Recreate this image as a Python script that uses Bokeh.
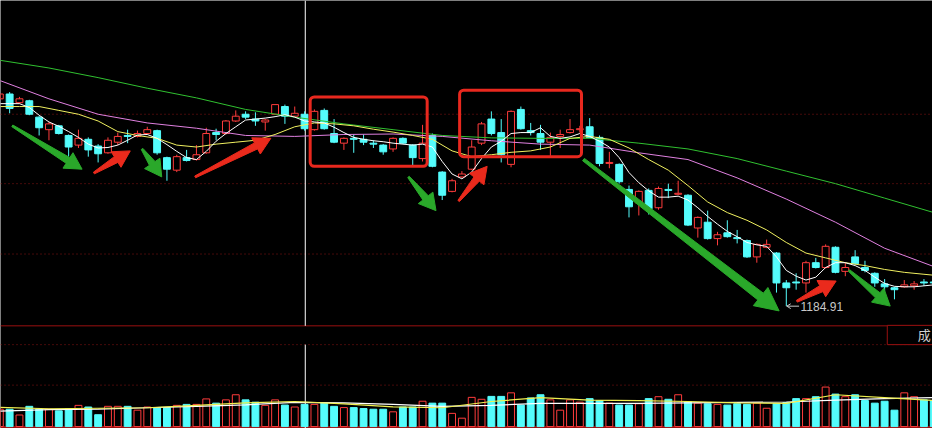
import math
from bokeh.plotting import figure
from bokeh.models import Range1d, ColumnDataSource
from bokeh.embed import file_html
from bokeh.resources import INLINE
from bokeh.core.properties import value

# ---------------- data ----------------
opens = [1400,1405,1396,1398,1381,1368,1372,1362,1352,1358,1351,1344,1355,1362,1361,1364,1367,1339,1326,1339,
         1337,1344,1365,1364,1377,1384,1379,1376,1384,1392,1382,1384,1368,1388,1364,1354,1359,1358,1354,1352,
         1348,1359,1352,1338,1362,1324,1304,1319,1327,1354,1379,1365,1332,1389,1367,1364,1355,1361,1365,1368,
         1371,1360,1333,1332,1306,1292,1305,1287,1306,1301,1300,1266,1272,1255,1261,1256,1253,1236,1246,1240,
         1209,1210,1209,1230,1225,1246,1221,1236,1225,1219,1208,1204,1205,1206,1210,1210]
closes = [1405,1390,1400,1384,1370,1374,1364,1350,1359,1347,1343,1357,1361,1361,1364,1368,1344,1327,1340,1336,
          1342,1364,1363,1377,1382,1381,1377,1378,1394,1382,1385,1369,1387,1369,1355,1359,1358,1355,1353,1345,
          1359,1354,1339,1354,1330,1300,1315,1322,1350,1374,1364,1342,1387,1369,1365,1355,1360,1363,1368,1369,
          1360,1333,1334,1314,1288,1304,1286,1307,1305,1302,1269,1277,1255,1259,1257,1255,1236,1249,1249,1209,
          1204,1209,1230,1225,1247,1220,1225,1229,1222,1209,1205,1202,1207,1208,1209,1209]
highs = [1406,1407,1402,1399,1382,1376,1373,1363,1368,1360,1353,1360,1365,1368,1367,1371,1368,1340,1342,1347,
         1352,1370,1369,1378,1388,1387,1386,1379,1394,1394,1392,1387,1389,1390,1379,1360,1363,1363,1357,1353,
         1360,1360,1353,1373,1364,1325,1317,1325,1357,1376,1387,1379,1388,1392,1375,1373,1365,1368,1379,1372,
         1380,1362,1345,1333,1310,1305,1307,1309,1312,1315,1301,1278,1284,1262,1274,1264,1254,1250,1254,1241,
         1212,1219,1232,1235,1249,1247,1230,1243,1232,1220,1213,1205,1212,1211,1213,1212]
lows = [1399,1385,1395,1383,1362,1357,1363,1340,1349,1340,1334,1343,1352,1354,1360,1363,1342,1315,1324,1335,
        1336,1343,1357,1363,1376,1379,1372,1367,1384,1374,1381,1367,1367,1368,1354,1347,1344,1352,1349,1342,
        1345,1353,1331,1335,1329,1295,1303,1318,1326,1352,1362,1334,1329,1368,1362,1347,1340,1349,1364,1365,
        1359,1330,1328,1312,1277,1279,1280,1285,1297,1300,1268,1256,1254,1248,1256,1250,1235,1230,1245,1199,
        1184.91,1202,1199,1224,1224,1219,1216,1228,1220,1205,1200,1192,1204,1202,1206,1207]
volumes = [180,180,120,210,180,180,163,183,220,203,123,210,210,210,170,203,197,197,220,230,
           230,287,243,277,330,277,253,220,277,223,203,230,230,243,210,197,197,187,180,180,
           153,203,203,263,243,243,137,87,303,283,313,313,350,223,297,330,277,170,277,253,
           290,270,243,223,223,237,290,310,283,330,257,243,237,230,223,237,230,243,190,237,
           250,290,290,310,410,337,310,330,270,243,263,170,350,310,277,270]

ma5 = [1395,1395,1395,1391,1383,1376,1371.5,1366,1360,1353,1349,1349.5,1352,1357,1362.5,1363,1359,1352.5,1345.5,1339,
       1337,1345.5,1356,1364,1371,1378,1379,1380,1381.5,1383.5,1381,1377,1376,1375,1370.5,1365,1360,1358,1356.5,1355.5,
       1354,1353,1352,1353,1350,1335,1322,1317,1324,1338,1350,1356,1364,1365,1365,1370,1361,1359,1360.5,1364,
       1361,1356,1350,1339,1323.5,1313,1304.5,1298,1298,1299,1295,1287,1278,1270,1262.5,1257,1251,1248.5,1247,1236,
       1222,1216,1212,1215,1225,1230,1230,1227,1222,1215,1208.5,1205.5,1205,1205,1206,1207]
ma10_idx = list(range(0, 96, 2)) + [95]
ma10 = [1392,1392,1392,1388,1384,1377,1366,1362,1359,1352,1350,1353,1355,1357,1363,1371,1375,1374,1372,1368.5,
        1365.5,1362,1358,1346,1340,1342,1344.5,1346,1350,1359,1361,1358,1349,1337,1326,1310,1293,1282,1274,1264,
        1251,1240,1235,1230,1227,1223,1220,1218,1217]
ma_idx5 = list(range(0, 96, 5)) + [95]
ma20 = [1419,1400,1384,1375,1369.5,1362,1361,1363,1363.5,1361,1356.5,1353,1352,1344,1337,1318,1296,1272,1245,1226]
ma60 = [1440,1432,1422,1411,1401,1389,1381,1374,1368,1362,1359.5,1359,1359,1354,1348,1338,1325,1312,1297,1282]
vol_ma5 = [160,175,180,195,210,225,250,245,230,210,220,240,240,240,245,250,255,275,290,300]
vol_ma10 = [200,185,190,195,220,245,260,235,205,195,260,300,275,270,260,245,240,330,300,270]

low_value = 1184.91
grid_prices = [1384, 1312, 1239]
vol_grid = [850, 430]
vol_label = "成"

# annotation arrows: (tail index, tail price, tip index, tip price, kind)
arrows = [(1.27,1372,8.37,1327,"g"),(9.57,1323,13.27,1346,"r"),(14.47,1348,16.47,1319,"g"),
          (19.87,1319,27.57,1359,"r"),(41.57,1319,44.37,1284,"g"),(46.67,1294,49.57,1330,"r"),
          (59.37,1337,79.27,1180,"G"),(81.07,1190,85.07,1211,"r"),(86.37,1222,90.57,1185,"g")]
boxes = [(31.57,43.47,1330,1402),(46.77,59.17,1340,1409)]
cursor_x = 31.07

# ---------------- figure ----------------
UP = "#ff3c3c"
DOWN = "#54fcfc"
GRID = "#8a1414"

p = figure(width=932, height=428, output_backend="svg", toolbar_location=None,
           x_range=Range1d(0.07, 94.87), y_range=Range1d(1058, 1502),
           x_axis_location=None, y_axis_location=None, min_border=0,
           background_fill_color="black", border_fill_color="black")
p.outline_line_color = None
p.grid.visible = False
p.extra_y_ranges = {"vol": Range1d(-20, 4420)}

# grid lines
for g in grid_prices:
    p.line([0.07, 94.87], [g, g], line_color=GRID, line_dash="1 3", line_width=1)
for g in vol_grid:
    p.line([0.07, 94.87], [g, g], line_color=GRID, line_dash="1 3", line_width=1, y_range_name="vol")
p.line([0.07, 94.87], [1164.5, 1164.5], line_color="#9a1010", line_width=1)
p.line([0.07, 94.87], [-5, -5], line_color="#9a1010", line_width=2, y_range_name="vol")

# crosshair
p.segment(x0=[cursor_x], y0=[1502], x1=[cursor_x], y1=[1164.5], line_color="white", line_width=1)
p.segment(x0=[cursor_x], y0=[850], x1=[cursor_x], y1=[-20], line_color="white", line_width=1, y_range_name="vol")

# candles
idx = list(range(len(opens)))
up = [c > o for o, c in zip(opens, closes)]
col = [UP if u else DOWN for u in up]
fill = ["black" if u else DOWN for u in up]
top = [max(o, c) + (0.5 if abs(o - c) < 1 else 0) for o, c in zip(opens, closes)]
bot = [min(o, c) - (0.5 if abs(o - c) < 1 else 0) for o, c in zip(opens, closes)]
src = ColumnDataSource(dict(x=idx, h=highs, l=lows, t=top, b=bot, c=col, f=fill, v=volumes))
p.segment(x0="x", y0="h", x1="x", y1="l", line_color="c", line_width=1, source=src)
p.vbar(x="x", top="t", bottom="b", width=0.7, fill_color="f", line_color="c", line_width=1, source=src)

# volume bars
p.vbar(x="x", top="v", bottom=0, width=0.7, fill_color="f", line_color="c", line_width=1,
       source=src, y_range_name="vol")
p.line(ma_idx5, vol_ma5, line_color="white", line_width=1.2, y_range_name="vol")
p.line(ma_idx5, vol_ma10, line_color="#f0f050", line_width=1.2, y_range_name="vol")

# moving averages
p.line(ma_idx5, ma60, line_color="#30c030", line_width=1)
p.line(ma_idx5, ma20, line_color="#e080e0", line_width=1)
p.line(ma10_idx, ma10, line_color="#f0f060", line_width=1)
p.line(idx, ma5, line_color="white", line_width=1)

# red boxes
for x0, x1, b0, t0 in boxes:
    try:
        p.quad(left=[x0], right=[x1], bottom=[b0], top=[t0], fill_color=None,
               line_color="#e8281e", line_width=3, border_radius=4)
    except Exception:
        p.quad(left=[x0], right=[x1], bottom=[b0], top=[t0], fill_color=None,
               line_color="#e8281e", line_width=3)

# block arrows (geometry in reference-pixel space: 10 px per candle, 1 px per point)
def arrow_poly(k0, p0, k1, p1, big):
    x0, y0, x1, y1 = 10 * k0, p0, 10 * k1, p1
    dx, dy = x1 - x0, y1 - y0
    L = math.hypot(dx, dy)
    ux, uy = dx / L, dy / L
    nx, ny = -uy, ux
    if big:
        wt, ws, wh, lh = 3, 9, 24, 24
    else:
        wt, ws, wh, lh = 2, 7, 19, 17
    bx, by = x1 - ux * lh, y1 - uy * lh
    pts = [(x0 + nx * wt / 2, y0 + ny * wt / 2), (bx + nx * ws / 2, by + ny * ws / 2),
           (bx + nx * wh / 2, by + ny * wh / 2), (x1, y1),
           (bx - nx * wh / 2, by - ny * wh / 2), (bx - nx * ws / 2, by - ny * ws / 2),
           (x0 - nx * wt / 2, y0 - ny * wt / 2)]
    return [q[0] / 10 for q in pts], [q[1] for q in pts]

xs, ys, cs = [], [], []
for k0, p0, k1, p1, kind in arrows:
    ax, ay = arrow_poly(k0, p0, k1, p1, kind == "G")
    xs.append(ax); ys.append(ay)
    cs.append("#ea2a1c" if kind == "r" else "#2aa82a")
p.patches(xs, ys, fill_color=cs, line_color=cs, line_width=1)

# low label
p.segment(x0=[80.05], y0=[low_value], x1=[81.3], y1=[low_value], line_color="#c8c8c8", line_width=1)
p.segment(x0=[80.05], y0=[low_value], x1=[80.45], y1=[low_value + 2.5], line_color="#c8c8c8", line_width=1)
p.segment(x0=[80.05], y0=[low_value], x1=[80.45], y1=[low_value - 2.5], line_color="#c8c8c8", line_width=1)
p.text(x=[81.45], y=[low_value], text=[f"{low_value:.2f}"], text_color="#c8c8c8",
       text_font=value("Liberation Sans"), text_font_size="12px", text_baseline="middle", text_align="left")

# volume label box
p.quad(left=[90.27], right=[96], bottom=[850], top=[1050], fill_color="black", line_color="#9a1010",
       line_width=1, y_range_name="vol")
p.text(x=[94.7], y=[950], text=[vol_label], text_color="#d0d0d0", text_font=value("Noto Sans CJK SC"),
       text_font_size="13px", text_baseline="middle", text_align="right", y_range_name="vol")

open("out.html", "w").write(file_html(p, INLINE))
